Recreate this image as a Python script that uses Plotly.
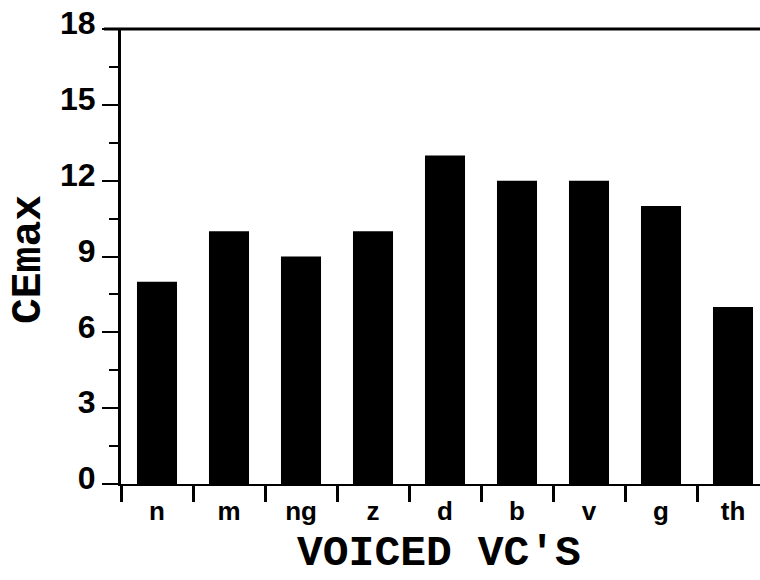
import plotly.graph_objects as go

categories = ["n", "m", "ng", "z", "d", "b", "v", "g", "th"]
cemax = [8, 10, 9, 10, 13, 12, 12, 11, 7]
y_ticks = [0, 3, 6, 9, 12, 15, 18]

W, H = 760, 580
L, R, T, B = 121, 0, 29, 96
pw = W - L - R
ph = H - T - B
cat_px = 72.0
span = pw / cat_px

fig = go.Figure()
fig.add_trace(go.Bar(
    x=categories, y=cemax, width=0.556,
    marker=dict(color="#000000", line=dict(width=0)),
))

tick_font = dict(family="Liberation Sans, Arial, sans-serif", size=32, color="black", weight="bold")
xtick_font = dict(family="Liberation Sans, Arial, sans-serif", size=26, color="black", weight="bold")

fig.update_layout(
    width=W, height=H,
    margin=dict(l=L, r=R, t=T, b=B, autoexpand=False),
    plot_bgcolor="white", paper_bgcolor="white",
    showlegend=False,
    xaxis=dict(
        type="category", range=[-0.5, -0.5 + span],
        showline=True, linecolor="black", linewidth=2,
        ticks="outside", tickson="boundaries", ticklen=16, tickwidth=3, tickcolor="black",
        tickfont=xtick_font, showgrid=False, zeroline=False, ticklabelstandoff=3,
    ),
    yaxis=dict(
        range=[0, 18], tickvals=y_ticks, ticktext=[str(v) for v in y_ticks],
        showline=True, linecolor="black", linewidth=3,
        ticks="outside", ticklen=16, tickwidth=2, tickcolor="black",
        minor=dict(dtick=1.5, tick0=0, ticks="outside", ticklen=9, tickwidth=2, tickcolor="black", showgrid=False),
        tickfont=tick_font, showgrid=False, zeroline=False, ticklabelshift=-6,
    ),
)

# top frame line (extends slightly left of the y axis)
fig.add_shape(type="line", xref="paper", yref="paper",
              x0=(104 - L) / pw, x1=1.0, y0=1, y1=1,
              line=dict(color="black", width=3))

title_font = dict(family="Liberation Mono, Courier New, monospace", size=43, color="black", weight="bold")
fig.add_annotation(text="VOICED VC'S", xref="paper", yref="paper",
                   x=(439 - L) / pw, y=(T + ph - 579) / ph, xanchor="center", yanchor="bottom",
                   showarrow=False, font=title_font, borderpad=0)
fig.add_annotation(text="CEmax", xref="paper", yref="paper",
                   x=(28 - L) / pw, y=(T + ph - 260) / ph, xanchor="center", yanchor="middle",
                   textangle=-90, showarrow=False, font=title_font)

fig.write_html("out.html")
